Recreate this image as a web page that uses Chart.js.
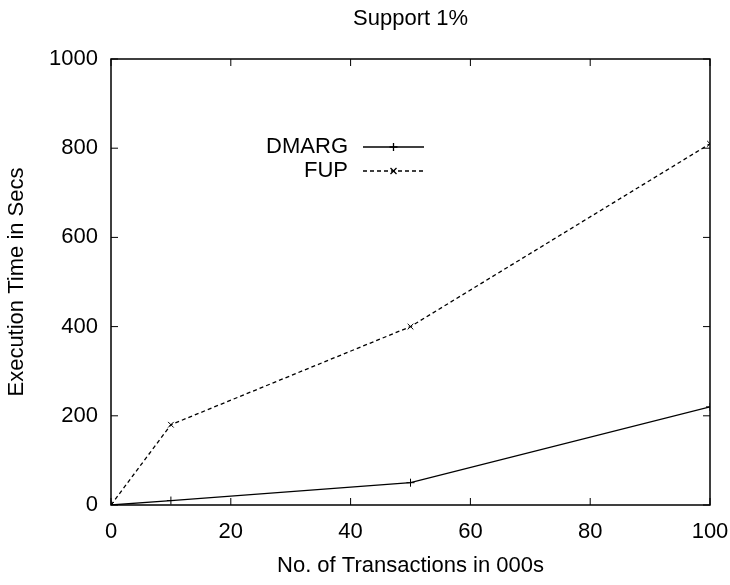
<!DOCTYPE html>
<html>
<head>
<meta charset="utf-8">
<script src="https://cdn.jsdelivr.net/npm/chart.js@4"></script>
<style>
    body { margin: 0; background: #fff; }
    #wrap { width: 730px; height: 585px; }
</style>
</head>
<body>
<div id="wrap"><canvas id="screenGraph"></canvas></div>
<script>
// datos del grafico
const xValues = [0, 10, 50, 100];          // No. of Transactions in 000s
const dmargTimes = [0, 10, 50, 220];       // DMARG, secs
const fupTimes = [0, 180, 400, 810];       // FUP, secs
const xTicks = [0, 20, 40, 60, 80, 100];
const yTicks = [0, 200, 400, 600, 800, 1000];
const chartTitle = 'Support 1%';

const FONT = 'Liberation Sans, Arial, Helvetica, sans-serif';
const ctx = document.getElementById('screenGraph');

// une x con y para la escala lineal
const toPoints = (values) => xValues.map((x, i) => ({ x: x, y: values[i] }));

// marco, ticks hacia dentro, titulo y leyenda estilo gnuplot
const gnuplotFrame = {
    id: 'gnuplotFrame',
    afterDatasetsDraw(chart) {
        const { ctx: c, chartArea: a, scales } = chart;
        const tick = 7;
        c.save();
        c.strokeStyle = '#000';
        c.lineWidth = 1.5;
        c.strokeRect(a.left, a.top, a.right - a.left, a.bottom - a.top);

        c.lineWidth = 1;
        c.beginPath();
        xTicks.forEach(v => {
            const px = scales.x.getPixelForValue(v);
            c.moveTo(px, a.bottom); c.lineTo(px, a.bottom - tick);
            c.moveTo(px, a.top); c.lineTo(px, a.top + tick);
        });
        yTicks.forEach(v => {
            const py = scales.y.getPixelForValue(v);
            c.moveTo(a.left, py); c.lineTo(a.left + tick, py);
            c.moveTo(a.right, py); c.lineTo(a.right - tick, py);
        });
        c.stroke();

        // titulo centrado sobre el area del grafico
        c.fillStyle = '#000';
        c.font = '22px ' + FONT;
        c.textAlign = 'center';
        c.textBaseline = 'middle';
        c.fillText(chartTitle, (a.left + a.right) / 2, 19);

        // leyenda: texto a la derecha alineado, muestra de linea despues
        const entries = chart.data.datasets;
        const textRight = a.left + 237;
        const lineStart = a.left + 252;
        const lineEnd = a.left + 313;
        c.textAlign = 'right';
        entries.forEach((ds, i) => {
            const y = a.top + 88 + i * 24;
            c.fillText(ds.label, textRight, y);
            c.lineWidth = ds.borderWidth;
            c.setLineDash(ds.borderDash || []);
            c.beginPath();
            c.moveTo(lineStart, y);
            c.lineTo(lineEnd, y);
            c.stroke();
            c.setLineDash([]);
            const mx = (lineStart + lineEnd) / 2;
            const r = 4;
            c.beginPath();
            if (ds.pointStyle === 'cross') {
                c.moveTo(mx - r, y); c.lineTo(mx + r, y);
                c.moveTo(mx, y - r); c.lineTo(mx, y + r);
            } else {
                const d = r * 0.75;
                c.moveTo(mx - d, y - d); c.lineTo(mx + d, y + d);
                c.moveTo(mx - d, y + d); c.lineTo(mx + d, y - d);
            }
            c.stroke();
        });
        c.restore();
    }
};

const data = {
    datasets: [{
        label: 'DMARG',
        data: toPoints(dmargTimes),
        borderColor: '#000',
        backgroundColor: '#000',
        borderWidth: 1.3,
        pointStyle: 'cross',
        pointRadius: 4,
        pointBorderWidth: 1,
        tension: 0
    }, {
        label: 'FUP',
        data: toPoints(fupTimes),
        borderColor: '#000',
        backgroundColor: '#000',
        borderWidth: 1.3,
        borderDash: [4, 3],
        pointStyle: 'crossRot',
        pointRadius: 4,
        pointBorderWidth: 1,
        tension: 0
    }]
};

new Chart(ctx, {
    type: 'line',
    data: data,
    options: {
        responsive: true,
        maintainAspectRatio: false,
        animation: false,
        layout: { padding: { left: 0, right: 20, top: 59, bottom: 0 } },
        plugins: {
            legend: { display: false },
            tooltip: { enabled: false },
            title: { display: false }
        },
        scales: {
            x: {
                type: 'linear',
                min: 0,
                max: 100,
                afterBuildTicks: (s) => { s.ticks = xTicks.map(v => ({ value: v })); },
                afterFit: (s) => {
                    s.height = 80;
                    s.paddingLeft = 0;
                    s.paddingRight = 0;
                },
                grid: { display: false, drawTicks: false },
                border: { display: false },
                ticks: {
                    color: '#000',
                    padding: 14,
                    maxRotation: 0,
                    callback: (v) => String(v),
                    font: { family: FONT, size: 22 }
                },
                title: {
                    display: true,
                    text: 'No. of Transactions in 000s',
                    color: '#000',
                    font: { family: FONT, size: 22 },
                    padding: { top: 0, bottom: 6 }
                }
            },
            y: {
                min: 0,
                max: 1000,
                afterBuildTicks: (s) => { s.ticks = yTicks.map(v => ({ value: v })); },
                afterFit: (s) => {
                    s.width = 111;
                    s.paddingTop = 0;
                    s.paddingBottom = 0;
                },
                grid: { display: false, drawTicks: false },
                border: { display: false },
                ticks: {
                    color: '#000',
                    padding: 13,
                    callback: (v) => String(v),
                    font: { family: FONT, size: 22 }
                },
                title: {
                    display: true,
                    text: 'Execution Time in Secs',
                    color: '#000',
                    font: { family: FONT, size: 22 },
                    padding: { top: 4, bottom: 0 }
                }
            }
        }
    },
    plugins: [gnuplotFrame]
});
</script>
</body>
</html>
